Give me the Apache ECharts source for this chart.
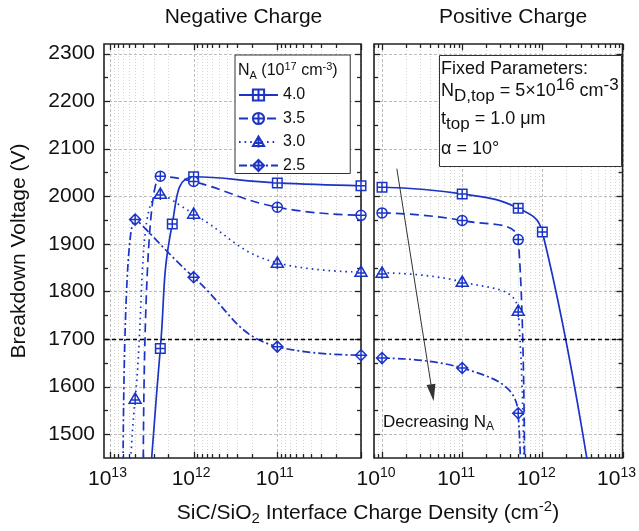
<!DOCTYPE html>
<html>
<head>
<meta charset="utf-8">
<script src="https://cdn.jsdelivr.net/npm/echarts@6/dist/echarts.min.js"></script>
<style>
  html, body { margin: 0; padding: 0; background: #fff; }
  #chart { width: 639px; height: 531px; }
</style>
</head>
<body>
<div id="chart"></div>
<script>
const FONT = '"Liberation Sans", Arial, Helvetica, sans-serif';
const BLUE = '#1b34c6';
const INK = '#111';

// Acceptor doping levels N_A (10^17 cm^-3)
const naLevels = ['4.0', '3.5', '3.0', '2.5'];

// Negative interface charge: density (cm^-2) and breakdown voltage (V)
const negQ_40 = [4e12, 2.5e12, 1.8e12, 1e12, 1e11, 1e10];
const negBV_40 = [1220, 1680, 1942, 2041, 2028, 2022];
const negQ_35 = [4e12, 2.5e12, 1e12, 1e11, 1e10];
const negBV_35 = [1420, 2042, 2031, 1977, 1960];
const negQ_30 = [6e12, 5e12, 2.5e12, 1e12, 1e11, 1e10];
const negBV_30 = [1330, 1574, 2005, 1963, 1860, 1841];
const negQ_25 = [7e12, 5e12, 1e12, 1e11, 1e10];
const negBV_25 = [1370, 1951, 1830, 1684, 1666];

// Positive interface charge: density (cm^-2) and breakdown voltage (V)
const posQ_40 = [1e10, 1e11, 5e11, 1e12, 5e12];
const posBV_40 = [2019, 2005, 1975, 1925, 1290];
const posQ_35 = [1e10, 1e11, 5e11, 6e11];
const posBV_35 = [1965, 1949, 1909, 1400];
const posQ_30 = [1e10, 1e11, 5e11, 6e11];
const posBV_30 = [1839, 1820, 1759, 1300];
const posQ_25 = [1e10, 1e11, 5e11, 6e11];
const posBV_25 = [1660, 1639, 1544, 1000];

// Reference breakdown level (V)
const targetBV = 1700;

// Axis ranges and ticks
const bvRange = [1450, 2320];
const bvTicks = [1500, 1600, 1700, 1800, 1900, 2000, 2100, 2200, 2300];
const bvMinorTicks = [1550, 1650, 1750, 1850, 1950, 2050, 2150, 2250];
const negRange = [1e10, 1.178e13];
const posRange = [7.94e9, 1e13];
const decadeTicks = [1e10, 1e11, 1e12, 1e13];
const negLabels = [1e13, 1e12, 1e11];
const posLabels = [1e10, 1e11, 1e12, 1e13];
const mantissas = [2, 3, 4, 5, 6, 7, 8, 9];

// "Decreasing N_A" trend arrow (charge density, voltage)
const trendFrom = [1.53e10, 2058];
const trendTo = [4.24e10, 1587];

const panelRanges = [negRange, posRange];

function minorTicksIn(range) {
  const out = [];
  [9, 10, 11, 12].forEach(d => mantissas.forEach(m => {
    const v = m * Math.pow(10, d);
    if (v > range[0] && v < range[1]) out.push(v);
  }));
  return out;
}

const markerPaths = {
  '4.0': 'path://M0,0H10V10H0Z M5,0V10 M0,5H10',
  '3.5': 'path://M0,5A5,5 0 1 1 10,5A5,5 0 1 1 0,5Z M5,0V10 M0,5H10',
  '3.0': 'path://M5,0L10.5,9.5H-0.5Z M5,0V11 M0.5,6.5H9.5',
  '2.5': 'path://M5,0L10,5L5,10L0,5Z M5,0V10 M0,5H10'
};
const markerSizes = { '4.0': 9.5, '3.5': 10, '3.0': 12, '2.5': 11 };
const dashes = { '4.0': 'solid', '3.5': [9, 5], '3.0': [1.6, 4], '2.5': [8, 3, 2, 3] };

function pairs(xs, ys) { return xs.map((x, i) => [x, ys[i]]); }

function curve(panel, level, xs, ys, extra) {
  return Object.assign({
    name: level,
    type: 'line',
    xAxisIndex: panel,
    yAxisIndex: panel,
    data: pairs(xs, ys),
    smooth: 0.45,
    symbol: markerPaths[level],
    symbolSize: markerSizes[level],
    symbolKeepAspect: true,
    showAllSymbol: true,
    color: BLUE,
    lineStyle: { color: BLUE, width: 1.7, type: dashes[level] },
    itemStyle: { color: '#fff', borderColor: BLUE, borderWidth: 1.5 },
    emphasis: { disabled: true },
    z: 3
  }, extra || {});
}

// Frame, grid lines and inward ticks for one panel, placed through the axes
function frameLayer(panel) {
  const xr = panelRanges[panel];
  const minors = minorTicksIn(xr);
  const majors = decadeTicks.filter(v => v >= xr[0] && v <= xr[1]);
  return {
    type: 'custom',
    xAxisIndex: panel,
    yAxisIndex: panel,
    silent: true,
    clip: false,
    z: 1,
    data: [[xr[0], bvRange[0]]],
    renderItem: function (params, api) {
      const p0 = api.coord([xr[0], bvRange[0]]);
      const p1 = api.coord([xr[1], bvRange[1]]);
      const left = Math.min(p0[0], p1[0]), right = Math.max(p0[0], p1[0]);
      const top = Math.min(p0[1], p1[1]), bot = Math.max(p0[1], p1[1]);
      const ch = [];
      const tick = { stroke: '#222', lineWidth: 1.3 };
      const add = (x1, y1, x2, y2, style) => ch.push({ type: 'line', shape: { x1, y1, x2, y2 }, style });
      minors.forEach(v => {
        const x = Math.round(api.coord([v, bvRange[0]])[0]) + 0.5;
        add(x, top, x, bot, { stroke: '#d6d6d6', lineWidth: 1, lineDash: [1, 2] });
        add(x, bot, x, bot - 4, tick);
        add(x, top, x, top + 4, tick);
      });
      majors.forEach(v => {
        const x = Math.round(api.coord([v, bvRange[0]])[0]) + 0.5;
        add(x, top, x, bot, { stroke: '#bdbdbd', lineWidth: 1, lineDash: [3, 2] });
        add(x, bot, x, bot - 6, tick);
        add(x, top, x, top + 6, tick);
      });
      bvTicks.forEach(v => {
        const y = Math.round(api.coord([xr[0], v])[1]) + 0.5;
        add(left, y, right, y, { stroke: '#bdbdbd', lineWidth: 1, lineDash: [3, 2] });
        add(left, y, left + 6, y, tick);
        add(right, y, right - 6, y, tick);
      });
      bvMinorTicks.forEach(v => {
        const y = Math.round(api.coord([xr[0], v])[1]) + 0.5;
        add(left, y, left + 4, y, tick);
        add(right, y, right - 4, y, tick);
      });
      ch.push({
        type: 'rect',
        shape: { x: left, y: top, width: right - left, height: bot - top },
        style: { fill: 'none', stroke: '#222', lineWidth: 1.6 },
        z2: 10
      });
      return { type: 'group', children: ch };
    }
  };
}

const expRich = {
  b: { fontSize: 21, fontFamily: FONT, color: INK },
  s: { fontSize: 14, fontFamily: FONT, color: INK, padding: [0, 0, 12, 0] }
};
const expLabel = v => '{b|10}{s|' + Math.round(Math.log10(v)) + '}';

function xAxisFor(panel, labels, shift) {
  return {
    gridIndex: panel,
    type: 'log',
    logBase: 10,
    min: panelRanges[panel][0],
    max: panelRanges[panel][1],
    inverse: panel === 0,
    axisLine: { show: false },
    axisTick: { show: false },
    splitLine: { show: false },
    minorTick: { show: false },
    minorSplitLine: { show: false },
    axisLabel: {
      customValues: labels,
      formatter: expLabel,
      rich: expRich,
      margin: 8,
      padding: [0, shift, 0, 0]
    }
  };
}

function yAxisFor(panel) {
  return {
    gridIndex: panel,
    type: 'value',
    min: bvRange[0],
    max: bvRange[1],
    axisLine: { show: false },
    axisTick: { show: false },
    splitLine: { show: false },
    axisLabel: {
      show: panel === 0,
      customValues: bvTicks,
      formatter: v => String(v),
      margin: 9,
      fontSize: 21,
      fontFamily: FONT,
      color: INK
    },
    name: panel === 0 ? 'Breakdown Voltage (V)' : '',
    nameLocation: 'middle',
    nameGap: 74,
    nameTextStyle: { fontSize: 21, fontFamily: FONT, color: INK }
  };
}

const refLine = {
  silent: true,
  symbol: 'none',
  label: { show: false },
  lineStyle: { color: '#000', type: [4, 3], width: 1.4 },
  data: [{ yAxis: targetBV }]
};

const trendArrow = {
  silent: true,
  label: { show: false },
  lineStyle: { color: '#333', type: 'solid', width: 1 },
  data: [[
    { coord: trendFrom, symbol: 'none' },
    { coord: trendTo, symbol: 'triangle', symbolSize: [9, 17], itemStyle: { color: '#000' } }
  ]]
};

const txt = (x, y, text, size, rich, extra) => Object.assign({
  type: 'text',
  x: x, y: y, z: 20,
  style: Object.assign({
    text: text,
    fontSize: size,
    fontFamily: FONT,
    fill: INK,
    align: 'left',
    verticalAlign: 'middle',
    rich: rich
  }, extra || {})
});

// base / subscript / superscript token styles
const subSup = (size, small, down, up) => ({
  t: { fontSize: size, fontFamily: FONT, fill: INK },
  b: { fontSize: small, fontFamily: FONT, fill: INK, padding: [down, 0, 0, 0] },
  s: { fontSize: small, fontFamily: FONT, fill: INK, padding: [0, 0, up, 0] }
});

const chart = echarts.init(document.getElementById('chart'), null, { renderer: 'canvas' });

chart.setOption({
  animation: false,
  backgroundColor: '#fff',
  grid: [
    { left: 104, top: 44, width: 257, height: 414 },
    { left: 374, top: 44, width: 252, height: 414 }
  ],
  xAxis: [xAxisFor(0, negLabels, 5), xAxisFor(1, posLabels, 12)],
  yAxis: [yAxisFor(0), yAxisFor(1)],
  legend: {
    data: naLevels,
    orient: 'vertical',
    left: 235,
    top: 55,
    padding: [32, 45, 0, 3],
    itemWidth: 39,
    itemHeight: 14,
    itemGap: 7.5,
    backgroundColor: '#fff',
    borderColor: '#333',
    borderWidth: 1,
    selectedMode: false,
    textStyle: { fontSize: 16, fontFamily: FONT, color: INK },
    z: 8
  },
  graphic: [
    txt(243.5, 17, 'Negative Charge', 21, null, { align: 'center' }),
    txt(513, 17, 'Positive Charge', 21, null, { align: 'center' }),
    txt(368, 513, '{t|SiC/SiO}{b|2}{t| Interface Charge Density (cm}{s|-2}{t|)}', 21,
        subSup(21, 15, 11, 12), { align: 'center' }),
    txt(238, 71, '{t|N}{b|A}{t| (10}{s|17}{t| cm}{s|-3}{t|)}', 16, subSup(16, 11, 9, 9)),
    {
      type: 'rect', z: 18,
      shape: { x: 439.5, y: 55.5, width: 182, height: 111 },
      style: { fill: '#fff', stroke: '#333', lineWidth: 1 }
    },
    txt(441, 69, 'Fixed Parameters:', 18),
    txt(441, 91, '{t|N}{b|D,top}{t| = 5×10}{s|16}{t| cm}{s|-3}', 18, subSup(18, 17, 11, 11)),
    txt(441, 119, '{t|t}{b|top}{t| = 1.0 μm}', 18, subSup(18, 17, 11, 11)),
    txt(441, 149, 'α = 10°', 18),
    txt(383, 422, '{t|Decreasing N}{b|A}', 17, subSup(17, 12, 10, 10))
  ],
  series: [
    frameLayer(0),
    frameLayer(1),
    curve(0, '4.0', negQ_40, negBV_40, { markLine: refLine }),
    curve(0, '3.5', negQ_35, negBV_35),
    curve(0, '3.0', negQ_30, negBV_30),
    curve(0, '2.5', negQ_25, negBV_25),
    curve(1, '4.0', posQ_40, posBV_40, { markLine: refLine }),
    curve(1, '3.5', posQ_35, posBV_35, { markLine: trendArrow }),
    curve(1, '3.0', posQ_30, posBV_30),
    curve(1, '2.5', posQ_25, posBV_25)
  ]
});
</script>
</body>
</html>
